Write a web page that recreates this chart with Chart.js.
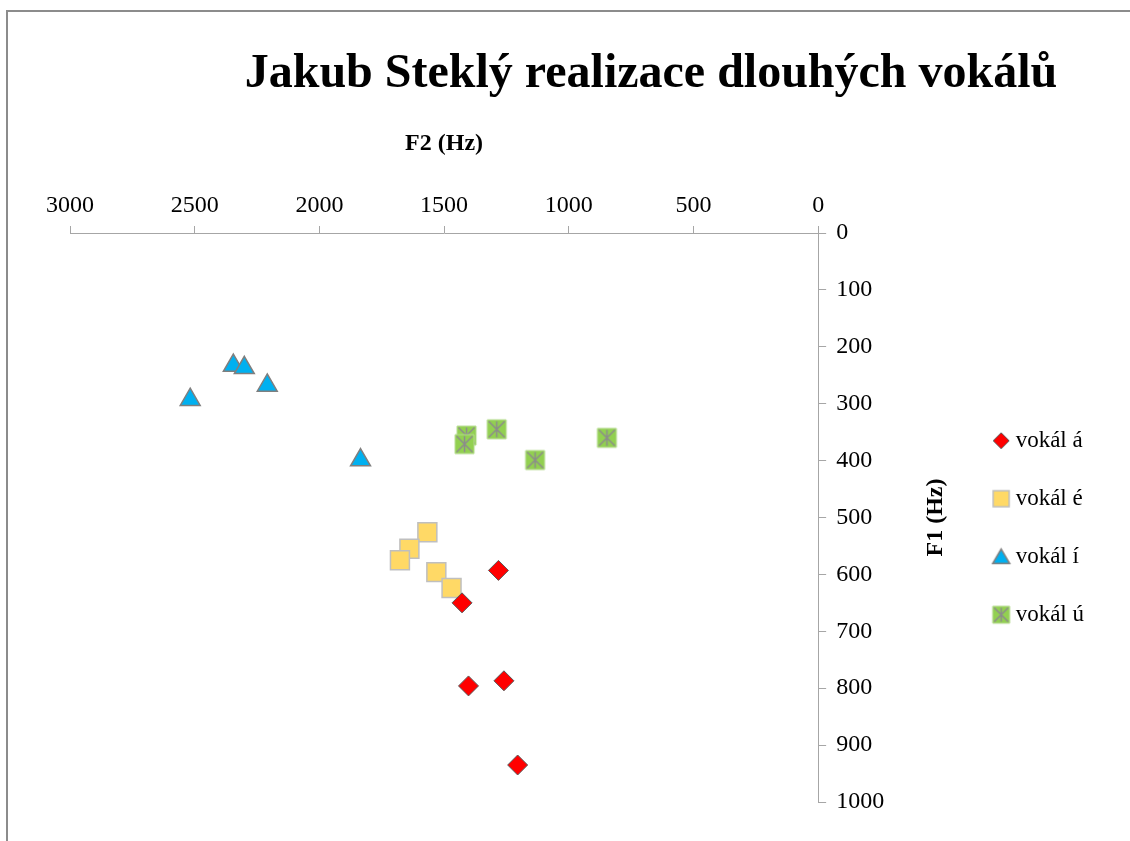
<!DOCTYPE html>
<html>
<head>
<meta charset="utf-8">
<title>Jakub Steklý realizace dlouhých vokálů</title>
<script src="https://cdn.jsdelivr.net/npm/chart.js@4.4.1/dist/chart.umd.min.js"></script>
<style>
    html, body { margin: 0; padding: 0; background: #fff; }
    #wrap { position: relative; width: 1130px; height: 841px; overflow: hidden; }
    #frame { position: absolute; left: 6px; top: 10px; right: -10px; bottom: -10px;
             border-left: 2px solid #8c8c8c; border-top: 2px solid #8c8c8c; }
    canvas { position: absolute; left: 0; top: 0; }
</style>
</head>
<body>
<div id="wrap">
    <div id="frame"></div>
    <canvas id="vowelChart" width="1130" height="841"></canvas>
</div>
<script>
const chartTitle = 'Jakub Steklý realizace dlouhých vokálů';
const xTitle = 'F2 (Hz)';
const yTitle = 'F1 (Hz)';

const vowelLabels = ['vokál á', 'vokál é', 'vokál í', 'vokál ú'];

// F2 (x) / F1 (y) per vowel
const f2A = [1282, 1428, 1402, 1260, 1205];
const f1A = [593, 650, 796, 787, 935];
const f2E = [1567, 1639, 1677, 1531, 1470];
const f1E = [526, 555, 575, 596, 624];
const f2I = [2345, 2301, 2209, 2518, 1835];
const f1I = [233, 237, 268, 293, 399];
const f2U = [1410, 1418, 1289, 1135, 847];
const f1U = [356, 371, 345, 399, 360];

const f2Ticks = [3000, 2500, 2000, 1500, 1000, 500, 0];
const f1Ticks = [0, 100, 200, 300, 400, 500, 600, 700, 800, 900, 1000];

const SERIF = '"Liberation Serif", "Times New Roman", serif';

function toPoints(xs, ys) {
    return xs.map((x, i) => ({ x: x, y: ys[i] }));
}

// small canvases for the star-on-square marker and the legend symbols
function makeMarker(kind, size) {
    const c = document.createElement('canvas');
    c.width = size + 4;
    c.height = size + 4;
    const g = c.getContext('2d');
    const m = c.width / 2;
    const h = size / 2;
    g.beginPath();
    if (kind === 'diamond') {
        g.moveTo(m, m - h); g.lineTo(m + h, m); g.lineTo(m, m + h); g.lineTo(m - h, m);
        g.closePath();
        g.fillStyle = '#FF0000'; g.fill();
        g.lineWidth = 1; g.strokeStyle = '#595959'; g.stroke();
    } else if (kind === 'square') {
        g.rect(m - h, m - h, size, size);
        g.fillStyle = '#FFD966'; g.fill();
        g.lineWidth = 1.5; g.strokeStyle = '#BFBFBF'; g.stroke();
    } else if (kind === 'triangle') {
        g.moveTo(m, m - h * 0.9); g.lineTo(m + h, m + h * 0.8); g.lineTo(m - h, m + h * 0.8);
        g.closePath();
        g.fillStyle = '#00B0F0'; g.fill();
        g.lineWidth = 1.5; g.strokeStyle = '#7F7F7F'; g.stroke();
    } else {
        g.rect(m - h, m - h, size, size);
        g.fillStyle = '#92D050'; g.fill();
        g.lineWidth = 1; g.strokeStyle = '#B5DB8F'; g.stroke();
        g.beginPath();
        g.moveTo(m, m - h + 1.5); g.lineTo(m, m + h - 1.5);
        g.moveTo(m - h + 1.5, m - h + 1.5); g.lineTo(m + h - 1.5, m + h - 1.5);
        g.moveTo(m + h - 1.5, m - h + 1.5); g.lineTo(m - h + 1.5, m + h - 1.5);
        g.lineWidth = 1.5; g.strokeStyle = '#8C8C8C'; g.stroke();
    }
    return c;
}

const starSquare = makeMarker('star', 19);
const legendMarkers = [
    makeMarker('diamond', 16),
    makeMarker('square', 16),
    makeMarker('triangle', 17),
    makeMarker('star', 17)
];

const textPlugin = {
    id: 'textPlugin',
    afterDraw(chart) {
        const ctx = chart.ctx;
        const a = chart.chartArea;
        ctx.save();
        ctx.fillStyle = '#000';
        ctx.textAlign = 'center';
        ctx.textBaseline = 'middle';
        ctx.font = 'bold 48px ' + SERIF;
        ctx.fillText(chartTitle, 651, 75);
        ctx.translate(936, (a.top + a.bottom) / 2);
        ctx.rotate(-Math.PI / 2);
        ctx.font = 'bold 24px ' + SERIF;
        ctx.fillText(yTitle, 0, 0);
        ctx.restore();
    }
};

const ctx = document.getElementById('vowelChart');
new Chart(ctx, {
    type: 'scatter',
    data: {
        datasets: [
            {
                label: vowelLabels[0],
                data: toPoints(f2A, f1A),
                pointStyle: 'rectRot',
                pointRadius: 10,
                backgroundColor: '#FF0000',
                borderColor: '#595959',
                borderWidth: 1
            },
            {
                label: vowelLabels[1],
                data: toPoints(f2E, f1E),
                pointStyle: 'rect',
                pointRadius: 13.4,
                backgroundColor: '#FFD966',
                borderColor: '#BFBFBF',
                borderWidth: 1.5
            },
            {
                label: vowelLabels[2],
                data: toPoints(f2I, f1I),
                pointStyle: 'triangle',
                pointRadius: 11.5,
                backgroundColor: '#00B0F0',
                borderColor: '#7F7F7F',
                borderWidth: 1.5
            },
            {
                label: vowelLabels[3],
                data: toPoints(f2U, f1U),
                pointStyle: starSquare,
                pointRadius: 10,
                backgroundColor: '#92D050',
                borderColor: '#8C8C8C'
            }
        ]
    },
    options: {
        responsive: false,
        animation: false,
        layout: { padding: { left: 70, top: 125, right: 36, bottom: 39 } },
        plugins: {
            title: { display: false },
            tooltip: { enabled: false },
            legend: {
                position: 'right',
                fullSize: false,
                title: { display: true, text: '', padding: { top: 3, bottom: 3 } },
                labels: {
                    usePointStyle: true,
                    boxWidth: 6,
                    boxHeight: 16,
                    padding: 35,
                    color: '#000',
                    font: { family: SERIF, size: 23 },
                    generateLabels: chart => chart.data.datasets.map((ds, i) => ({
                        text: ds.label,
                        pointStyle: legendMarkers[i],
                        fillStyle: 'transparent',
                        strokeStyle: 'transparent',
                        lineWidth: 0,
                        hidden: false,
                        datasetIndex: i,
                        fontColor: '#000'
                    }))
                }
            }
        },
        scales: {
            x: {
                type: 'linear',
                position: 'top',
                min: 0,
                max: 3000,
                reverse: true,
                afterBuildTicks: s => { s.ticks = f2Ticks.map(v => ({ value: v })); },
                afterFit: s => { s.height = 108; },
                ticks: {
                    color: '#000',
                    font: { family: SERIF, size: 24 },
                    padding: 6,
                    maxRotation: 0,
                    callback: v => String(v)
                },
                grid: { drawOnChartArea: false, drawTicks: true, tickLength: 7, color: '#A6A6A6' },
                border: { color: '#A6A6A6', width: 1 },
                title: {
                    display: true,
                    text: xTitle,
                    color: '#000',
                    font: { family: SERIF, size: 24, weight: 'bold' },
                    padding: { top: 4, bottom: 0 }
                }
            },
            y: {
                type: 'linear',
                position: 'right',
                min: 0,
                max: 1000,
                reverse: true,
                afterBuildTicks: s => { s.ticks = f1Ticks.map(v => ({ value: v })); },
                afterFit: s => { s.width = 145; },
                ticks: {
                    color: '#000',
                    font: { family: SERIF, size: 24 },
                    padding: 10,
                    callback: v => String(v)
                },
                grid: { drawOnChartArea: false, drawTicks: true, tickLength: 8, color: '#A6A6A6' },
                border: { color: '#A6A6A6', width: 1 }
            }
        }
    },
    plugins: [textPlugin]
});
</script>
</body>
</html>
